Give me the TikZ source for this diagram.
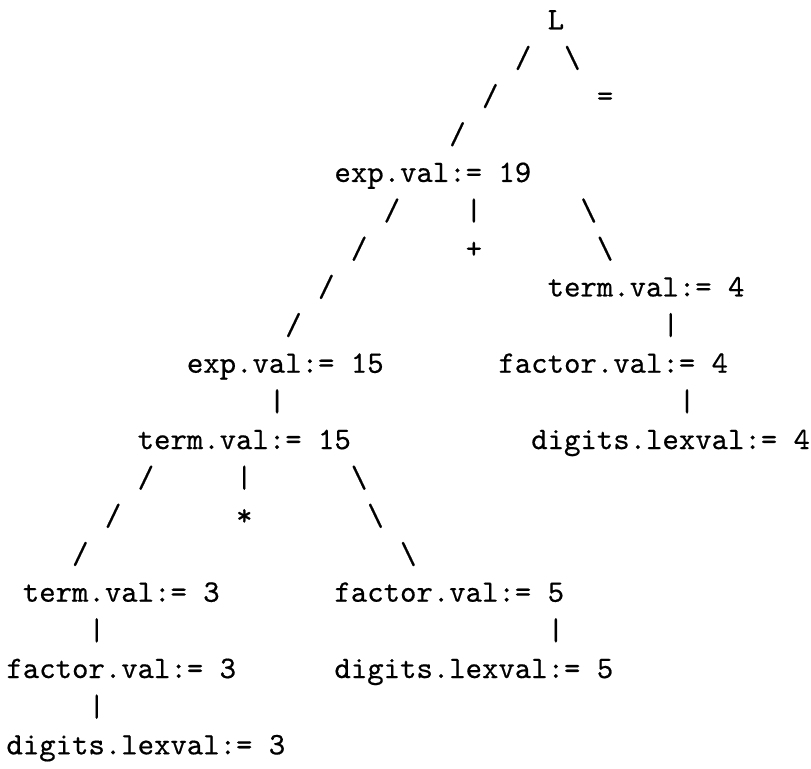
\documentclass[tikz,border=0pt]{standalone}
\usepackage{fontspec}
\newfontfamily\asciifont[FakeBold=0.5]{Latin Modern Mono}
\tikzset{
  cell/.style={anchor=base west, inner sep=0pt, outer sep=0pt, font=\fontsize{10}{12}\asciifont}
}
% column c, row r  ->  pixel position of the cell's base-left point
\newcommand{\tx}[4]{\node[cell] (#1) at ({6.5+16.4*#2},{29.3+38.16*(#3-1)}) {#4};}
\begin{document}
\begin{tikzpicture}[x=0.3202pt, y=-0.3202pt]
\useasboundingbox (0,0) rectangle (811,769);
% row 1-4
\tx{L}{33}{1}{L}
\tx{sA}{31}{2}{/}
\tx{bA}{34}{2}{\textbackslash}
\tx{sB}{29}{3}{/}
\tx{eq}{36}{3}{=}
\tx{sC}{27}{4}{/}
% row 5
\tx{exp19}{20}{5}{exp.val:= 19}
\tx{sD}{23}{6}{/}
\tx{vA}{28}{6}{|}
\tx{bB}{35}{6}{\textbackslash}
\tx{sE}{21}{7}{/}
\tx{plus}{28}{7}{+}
\tx{bC}{36}{7}{\textbackslash}
\tx{sF}{19}{8}{/}
\tx{term4}{33}{8}{term.val:= 4}
\tx{sG}{17}{9}{/}
\tx{vB}{40}{9}{|}
\tx{exp15}{11}{10}{exp.val:= 15}
\tx{fac4}{30}{10}{factor.val:= 4}
\tx{vC}{16}{11}{|}
\tx{vD}{41}{11}{|}
\tx{term15}{8}{12}{term.val:= 15}
\tx{dig4}{32}{12}{digits.lexval:= 4}
\tx{sH}{8}{13}{/}
\tx{vE}{14}{13}{|}
\tx{bD}{21}{13}{\textbackslash}
\tx{sI}{6}{14}{/}
\tx{star}{14}{14}{*}
\tx{bE}{22}{14}{\textbackslash}
\tx{sJ}{4}{15}{/}
\tx{bF}{24}{15}{\textbackslash}
\tx{term3}{1}{16}{term.val:= 3}
\tx{fac5}{20}{16}{factor.val:= 5}
\tx{vF}{5}{17}{|}
\tx{vG}{33}{17}{|}
\tx{fac3}{0}{18}{factor.val:= 3}
\tx{dig5}{20}{18}{digits.lexval:= 5}
\tx{vH}{5}{19}{|}
\tx{dig3}{0}{20}{digits.lexval:= 3}
\end{tikzpicture}
\end{document}
